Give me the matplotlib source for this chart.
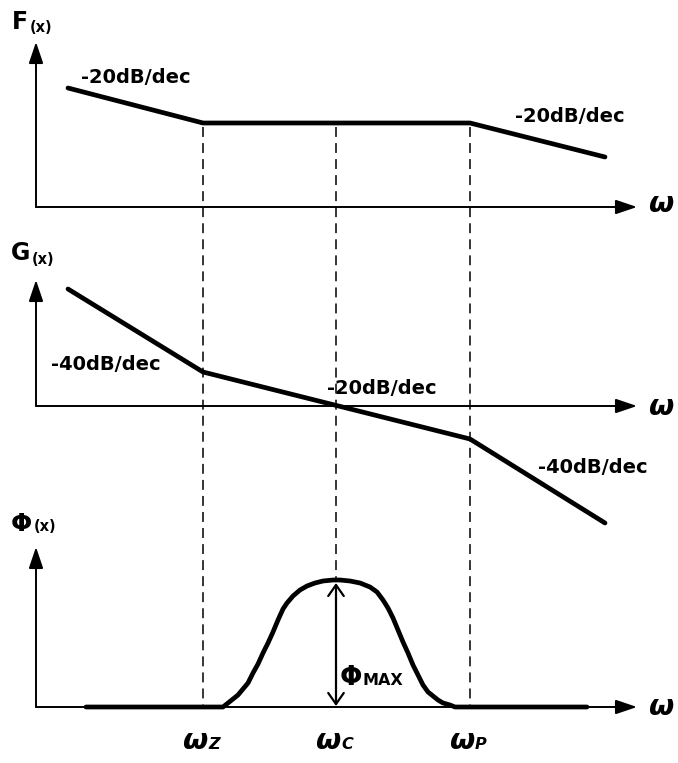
"""Bode sketch of lead compensator: F(x), G(x) magnitude asymptotes and phase bump."""
import matplotlib
matplotlib.use("Agg")
import matplotlib.pyplot as plt

# canvas units are pixels of the 678x763 picture, y grows downward
W, H = 678, 763

# break frequencies (x positions) and axis geometry
w_z, w_c, w_p = 203, 336, 470
axis_x0, axis_x1 = 36, 637
base_y = [207, 406, 707]   # horizontal axes of the three panels
top_y = [42, 280, 547]     # tips of the vertical axes

# asymptotes
F_x = [68, 203, 470, 605]
F_y = [88, 123, 123, 157]
G_x = [68, 203, 470, 605]
G_y = [289, 372, 439, 523]

# phase bump
phi_x = [86, 223, 228, 233, 238, 243, 248, 253, 258, 263, 268, 273, 278,
         283, 287, 293, 300, 307, 315, 323, 333, 336, 340, 350, 360, 370,
         377, 383, 388, 393, 398, 403, 408, 413, 418, 423, 428, 433, 438,
         443, 450, 455, 587]
phi_y = [707, 707, 703, 699, 695, 689, 683, 673, 664, 653, 643, 632, 620,
         609, 603, 596, 590, 586, 583, 581, 580, 580, 580, 581, 583, 587,
         592, 600, 608, 618, 630, 642, 653, 665, 675, 685, 692, 696, 700,
         703, 705, 707, 707]

slope_labels = [("-20dB/dec", 136, 83), ("-20dB/dec", 570, 122),
                ("-40dB/dec", 106, 370), ("-20dB/dec", 382, 394),
                ("-40dB/dec", 593, 473)]

fig = plt.figure(figsize=(W / 100, H / 100), dpi=100)
ax = fig.add_axes([0, 0, 1, 1])
ax.set_xlim(0, W)
ax.set_ylim(H, 0)
ax.axis("off")

arrow = dict(arrowstyle="-|>,head_length=0.65,head_width=0.22", color="black",
             lw=1.4, mutation_scale=20, shrinkA=0, shrinkB=0)
for y0, yt in zip(base_y, top_y):
    ax.annotate("", xy=(axis_x1, y0), xytext=(axis_x0, y0), arrowprops=arrow)
    ax.annotate("", xy=(axis_x0, yt), xytext=(axis_x0, y0), arrowprops=arrow)

# dashed guides at the break frequencies
dash = dict(color="black", lw=1.1, dashes=(6.5, 4.0))
ax.plot([w_z, w_z], [F_y[1] + 4, base_y[2]], **dash)
ax.plot([w_p, w_p], [F_y[2] + 4, base_y[2]], **dash)
ax.plot([w_c, w_c], [F_y[1] + 4, phi_y[21]], **dash)

curve = dict(color="black", lw=3.4, solid_capstyle="round", solid_joinstyle="round")
ax.plot(F_x, F_y, **curve)
ax.plot(G_x, G_y, **curve)
ax.plot(phi_x, phi_y, **curve)

# phase margin double arrow
ax.annotate("", xy=(w_c, 583), xytext=(w_c, base_y[2] - 1),
            arrowprops=dict(arrowstyle="<->,head_length=0.5,head_width=0.35",
                            color="black", lw=1.6, mutation_scale=16,
                            shrinkA=0, shrinkB=0))

bold = dict(family="DejaVu Sans", weight="bold", ha="left", va="baseline")
for txt, x, y in slope_labels:
    ax.text(x, y, txt, fontsize=14, family="DejaVu Sans", weight="bold",
            ha="center", va="baseline")

ax.text(12, 29, "F", fontsize=17, **bold)
ax.text(30, 32, "(x)", fontsize=10.5, **bold)
ax.text(11, 260, "G", fontsize=17, **bold)
ax.text(32, 264, "(x)", fontsize=10.5, **bold)
ax.text(11, 531, "Φ", fontsize=18, **bold)
ax.text(34, 531, "(x)", fontsize=10.5, **bold)
ax.text(340, 685, "Φ", fontsize=19, **bold)
ax.text(363, 685, "MAX", fontsize=11.5, **bold)

ital = dict(family="DejaVu Sans", weight="bold", style="italic",
            ha="left", va="baseline")
for y in [212, 415, 715]:
    ax.text(648, y, "ω", fontsize=21, **ital)
for x, sub in [(w_z, "Z"), (w_c, "C"), (w_p, "P")]:
    ax.text(x - 21, 749, "ω", fontsize=21, **ital)
    ax.text(x + 5, 749, sub, fontsize=11.5, **ital)

fig.savefig("out.png", dpi=100)
